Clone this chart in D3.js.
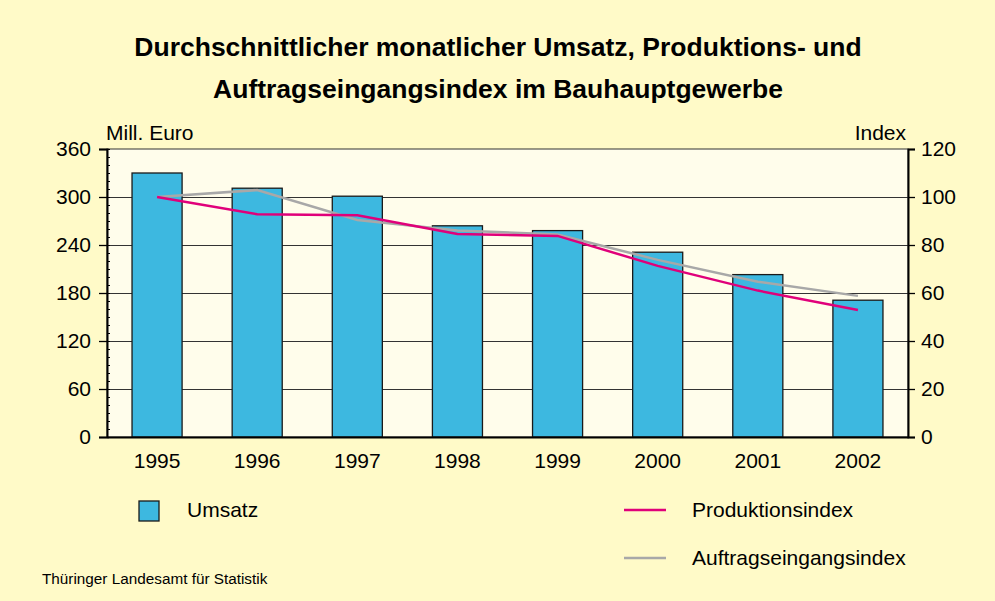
<!DOCTYPE html>
<html>
<head>
<meta charset="utf-8">
<script src="https://cdn.jsdelivr.net/npm/d3@7"></script>
<style>
	body { margin: 0; background: #fffac8; }
	text { font-family: "Liberation Sans", Arial, sans-serif; fill: #000; }
</style>
</head>
<body>
<svg id="chart" width="995" height="601"></svg>
<script>

// Data

var years = ["1995", "1996", "1997", "1998", "1999", "2000", "2001", "2002"];
var umsatz = [330, 311, 301, 264, 258, 231, 203, 171];
var produktion = [100, 92.8, 92.4, 84.6, 83.8, 71.3, 61, 52.9];
var auftrag = [100, 102.9, 90.4, 86, 84.4, 73.8, 64.7, 58.8];

var leftTicks = [0, 60, 120, 180, 240, 300, 360];
var rightTicks = [0, 20, 40, 60, 80, 100, 120];

var titleLines = [
	"Durchschnittlicher monatlicher Umsatz, Produktions- und",
	"Auftragseingangsindex im Bauhauptgewerbe"
];

var svg = d3.select("#chart");

var margin = {left: 107, right: 908, top: 149, bottom: 437};
var fontSize = "21px";

svg.append("rect")
	.attr("width", 995).attr("height", 601)
	.attr("fill", "#fffac8");

// Title

svg.selectAll(".title")
	.data(titleLines)
	.enter().append("text")
	.attr("class", "title")
	.attr("x", 498)
	.attr("y", function (d, i) { return 56 + i * 42; })
	.style("font-size", "26.5px")
	.style("font-weight", "bold")
	.style("text-anchor", "middle")
	.text(function (d) { return d; });

// Scales

var x = d3.scaleBand()
	.domain(years)
	.range([margin.left, margin.right])
	.paddingInner(0.5)
	.paddingOuter(0.25);

var yLeft = d3.scaleLinear().domain([0, 360]).range([margin.bottom, margin.top]);
var yRight = d3.scaleLinear().domain([0, 120]).range([margin.bottom, margin.top]);

// Plot background

svg.append("rect")
	.attr("x", margin.left)
	.attr("y", margin.top)
	.attr("width", margin.right - margin.left)
	.attr("height", margin.bottom - margin.top)
	.attr("fill", "#fffdeb")
	.attr("stroke", "#333")
	.attr("stroke-width", 1);

// Grid

svg.append("g")
	.selectAll("line")
	.data(leftTicks.slice(1, -1))
	.enter().append("line")
	.attr("x1", margin.left)
	.attr("x2", margin.right)
	.attr("y1", function (d) { return Math.round(yLeft(d)) + 0.5; })
	.attr("y2", function (d) { return Math.round(yLeft(d)) + 0.5; })
	.attr("stroke", "#333")
	.attr("stroke-width", 1);

// Bars

svg.append("g")
	.selectAll("rect")
	.data(umsatz)
	.enter().append("rect")
	.attr("x", function (d, i) { return x(years[i]); })
	.attr("y", function (d) { return yLeft(d); })
	.attr("width", x.bandwidth())
	.attr("height", function (d) { return yLeft(0) - yLeft(d); })
	.attr("fill", "#3db8e0")
	.attr("stroke", "#1a1a1a")
	.attr("stroke-width", 1.3);

// Lines

var line = d3.line()
	.x(function (d, i) { return x(years[i]) + x.bandwidth() / 2; })
	.y(function (d) { return yRight(d); });

svg.append("path")
	.datum(auftrag)
	.attr("d", line)
	.attr("fill", "none")
	.attr("stroke", "#a8a8a8")
	.attr("stroke-width", 2.5);

svg.append("path")
	.datum(produktion)
	.attr("d", line)
	.attr("fill", "none")
	.attr("stroke", "#e0007a")
	.attr("stroke-width", 2.5);

// Axes

var leftAxis = svg.append("g")
	.attr("transform", "translate(" + margin.left + ",0)")
	.call(d3.axisLeft(yLeft).tickValues(leftTicks).tickSize(8).tickPadding(8));

var minorAxis = svg.append("g")
	.attr("transform", "translate(" + margin.left + ",0)")
	.call(d3.axisRight(yLeft).tickValues(d3.range(0, 361, 10)).tickSize(3).tickFormat(""));

var rightAxis = svg.append("g")
	.attr("transform", "translate(" + margin.right + ",0)")
	.call(d3.axisRight(yRight).tickValues(rightTicks).tickSize(7).tickPadding(6));

var bottomAxis = svg.append("g")
	.attr("transform", "translate(0," + margin.bottom + ")")
	.call(d3.axisBottom(x).tickSize(0).tickPadding(16));

[leftAxis, minorAxis, rightAxis, bottomAxis].forEach(function (g) {
	g.select(".domain").attr("stroke", "#000").attr("stroke-width", 2);
	g.selectAll(".tick line").attr("stroke", "#000").attr("stroke-width", 1.3);
	g.selectAll("text")
		.style("font-family", "'Liberation Sans', Arial, sans-serif")
		.style("font-size", fontSize)
		.attr("fill", "#000");
});

minorAxis.select(".domain").remove();
minorAxis.selectAll(".tick line").attr("stroke-width", 1);

svg.append("text")
	.attr("x", 106)
	.attr("y", 140)
	.style("font-size", fontSize)
	.text("Mill. Euro");

svg.append("text")
	.attr("x", 906)
	.attr("y", 140)
	.style("font-size", fontSize)
	.style("text-anchor", "end")
	.text("Index");

// Legend

svg.append("rect")
	.attr("x", 139)
	.attr("y", 501)
	.attr("width", 20)
	.attr("height", 20)
	.attr("fill", "#3db8e0")
	.attr("stroke", "#1a1a1a")
	.attr("stroke-width", 1.3);

svg.append("text")
	.attr("x", 187)
	.attr("y", 517)
	.style("font-size", fontSize)
	.text("Umsatz");

var legendLines = [
	{name: "Produktionsindex", color: "#e0007a", y: 510},
	{name: "Auftragseingangsindex", color: "#a8a8a8", y: 558}
];

var legend = svg.append("g")
	.selectAll("g")
	.data(legendLines)
	.enter().append("g");

legend.append("line")
	.attr("x1", 624).attr("x2", 666)
	.attr("y1", function (d) { return d.y; })
	.attr("y2", function (d) { return d.y; })
	.attr("stroke", function (d) { return d.color; })
	.attr("stroke-width", 2.5);

legend.append("text")
	.attr("x", 692)
	.attr("y", function (d) { return d.y + 7; })
	.style("font-size", fontSize)
	.text(function (d) { return d.name; });

// Source

svg.append("text")
	.attr("x", 42)
	.attr("y", 584)
	.style("font-size", "15.3px")
	.text("Thüringer Landesamt für Statistik");

</script>
</body>
</html>
